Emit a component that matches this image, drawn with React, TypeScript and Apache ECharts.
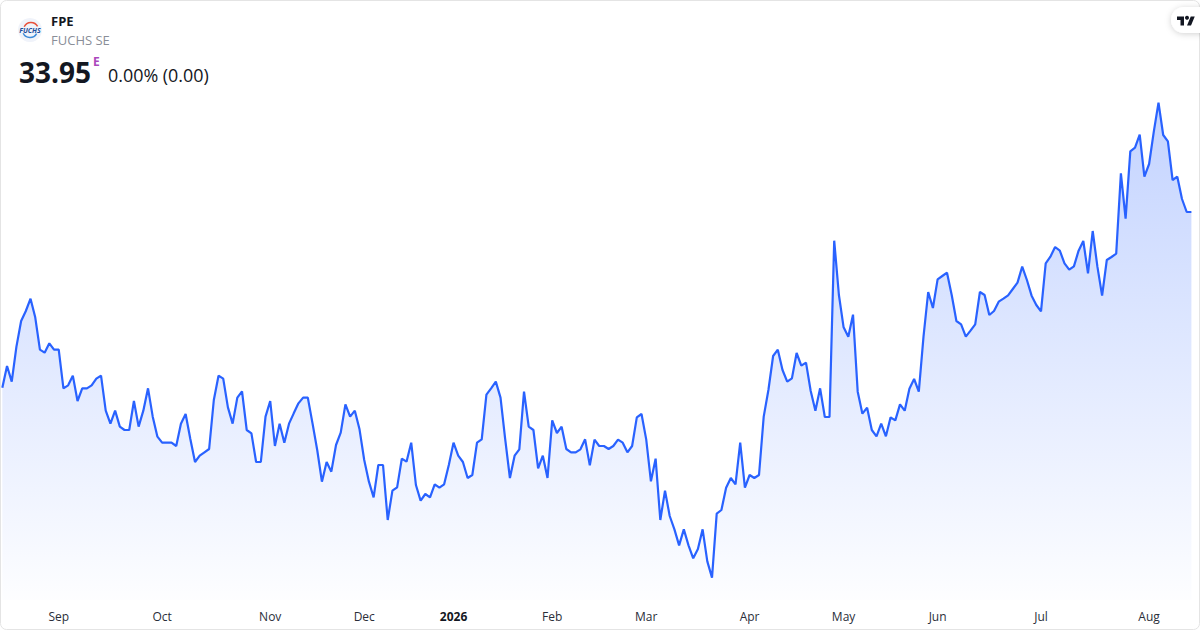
import React, { useEffect, useRef } from "react";
import * as echarts from "echarts";

const prices: number[] = [
  28.68, 29.33, 28.86, 29.91, 30.68, 30.98, 31.35, 30.79, 29.82, 29.73, 30.01, 29.82, 29.82, 28.66, 28.75, 29.04,
  28.28, 28.66, 28.66, 28.75, 28.95, 29.04, 27.99, 27.6, 27.99, 27.51, 27.41, 27.41, 28.28, 27.51, 27.99, 28.66,
  27.81, 27.21, 27.03, 27.03, 27.03, 26.93, 27.6, 27.89, 27.14, 26.45, 26.64, 26.74, 26.84, 28.31, 29.04, 28.95,
  28.09, 27.6, 28.38, 28.57, 27.41, 27.31, 26.45, 26.45, 27.81, 28.28, 26.93, 27.6, 27.03, 27.6, 27.91, 28.21,
  28.38, 28.38, 27.61, 26.81, 25.86, 26.45, 26.16, 26.96, 27.33, 28.18, 27.81, 27.99, 27.43, 26.51, 25.86, 25.39,
  26.36, 26.36, 24.71, 25.59, 25.69, 26.55, 26.46, 27.03, 25.76, 25.29, 25.49, 25.39, 25.78, 25.68, 25.78, 26.36,
  27.03, 26.64, 26.45, 25.97, 26.06, 27.03, 27.13, 28.47, 28.66, 28.86, 28.38, 27.13, 25.97, 26.64, 26.83, 28.56,
  27.51, 27.41, 26.26, 26.64, 25.97, 27.7, 27.32, 27.51, 26.84, 26.74, 26.74, 26.83, 27.13, 26.35, 27.12, 26.93,
  26.93, 26.84, 26.93, 27.12, 27.03, 26.74, 26.93, 27.79, 27.89, 27.13, 25.87, 26.55, 24.71, 25.59, 24.83, 24.43,
  23.95, 24.43, 23.95, 23.56, 23.84, 24.43, 23.47, 22.98, 24.9, 25.01, 25.68, 25.97, 25.78, 27.03, 25.68, 26.06,
  25.97, 26.06, 27.81, 28.61, 29.63, 29.82, 29.21, 28.86, 28.96, 29.72, 29.34, 29.43, 28.58, 27.99, 28.66, 27.8,
  27.8, 33.09, 31.46, 30.49, 30.21, 30.87, 28.56, 27.9, 28.08, 27.41, 27.22, 27.6, 27.22, 27.79, 27.7, 28.18,
  27.99, 28.65, 28.94, 28.56, 30.21, 31.55, 31.07, 31.93, 32.03, 32.13, 31.46, 30.68, 30.58, 30.21, 30.39, 30.58,
  31.55, 31.46, 30.86, 30.98, 31.26, 31.35, 31.45, 31.64, 31.83, 32.31, 31.91, 31.44, 31.16, 30.97, 32.41, 32.61,
  32.9, 32.79, 32.41, 32.22, 32.32, 32.79, 33.08, 32.11, 33.38, 32.31, 31.44, 32.51, 32.6, 32.7, 35.11, 33.75,
  35.77, 35.88, 36.27, 35.01, 35.39, 36.36, 37.23, 36.26, 36.07, 34.91, 35.01, 34.34, 33.95, 33.95,
];

const tickLabels: string[] = ["Sep", "Oct", "Nov", "Dec", "2026", "Feb", "Mar", "Apr", "May", "Jun", "Jul", "Aug"];
const tickIndexes: number[] = [12, 34, 57, 77, 96, 117, 137, 159, 179, 199, 221, 244];
const categories: string[] = prices.map((_, i) => {
  const t = tickIndexes.indexOf(i);
  return t >= 0 ? tickLabels[t] : "";
});

const FONT = "'Open Sans', 'Noto Sans', sans-serif";
const TV_LOGO = "M14 22H7V11H0V4h14v18zM28 22h-8l7.5-18h8L28 22z";

export default function App() {
  const ref = useRef<HTMLDivElement>(null);
  useEffect(() => {
    document.body.style.margin = "0";
    if (!ref.current) return;
    echarts.graphic.registerShape("tvlogo", echarts.graphic.extendPath(TV_LOGO, {}) as any);
    const chart = echarts.init(ref.current, undefined, { renderer: "svg" });
    chart.setOption({
      animation: false,
      backgroundColor: "#ffffff",
      grid: { left: 2.33, right: 8.6, top: 0, bottom: 30 },
      xAxis: {
        type: "category",
        data: categories,
        boundaryGap: false,
        axisLine: { show: false },
        axisTick: { show: false },
        splitLine: { show: false },
        axisLabel: {
          interval: (i: number) => tickIndexes.includes(i),
          margin: 10,
          fontFamily: FONT,
          fontSize: 12,
          color: "#2a2e39",
          hideOverlap: false,
          formatter: (v: string) => (v === "2026" ? "{b|2026}" : v),
          rich: { b: { fontFamily: FONT, fontSize: 12, fontWeight: "bold", color: "#131722" } },
        },
      },
      yAxis: { type: "value", min: 22.31, max: 40.31, show: false, splitLine: { show: false } },
      series: [
        {
          type: "line",
          data: prices,
          symbol: "none",
          smooth: false,
          lineStyle: { color: "#2962ff", width: 2.2 },
          areaStyle: {
            opacity: 1,
            color: new echarts.graphic.LinearGradient(0, 0, 0, 1, [
              { offset: 0, color: "rgba(41,98,255,0.28)" },
              { offset: 1, color: "rgba(41,98,255,0.01)" },
            ]),
          },
        },
      ],
      graphic: [
        { type: "rect", shape: { x: 0.5, y: 0.5, width: 1199, height: 629, r: 6 }, style: { fill: "none", stroke: "#e4e4e4", lineWidth: 1 }, silent: true },
        { type: "circle", shape: { cx: 30, cy: 30, r: 12 }, style: { fill: "#f0f3fa" } },
        { type: "arc", shape: { cx: 31, cy: 30, r: 7.5, startAngle: -2.7, endAngle: -0.5, clockwise: true }, style: { fill: "none", stroke: "#e8503a", lineWidth: 1.5 } },
        { type: "arc", shape: { cx: 30, cy: 30, r: 7.5, startAngle: 0.5, endAngle: 2.7, clockwise: true }, style: { fill: "none", stroke: "#3c8ad8", lineWidth: 1.5 } },
        { type: "text", x: 30, y: 30, style: { text: "FUCHS", fontFamily: FONT, fontSize: 7, fontWeight: "bold", fontStyle: "italic", fill: "#1d4f9c", align: "center", verticalAlign: "middle" } },
        { type: "text", x: 51, y: 21, style: { text: "FPE", fontFamily: FONT, fontSize: 13, fontWeight: 700, fill: "#131722", verticalAlign: "middle" } },
        { type: "text", x: 51, y: 40, style: { text: "FUCHS SE", fontFamily: FONT, fontSize: 13, fill: "#8a8e98", verticalAlign: "middle" } },
        { type: "text", x: 19, y: 71.5, style: { text: "33.95", fontFamily: FONT, fontSize: 28, fontWeight: 700, fill: "#131722", verticalAlign: "middle" } },
        { type: "text", x: 93, y: 61, style: { text: "E", fontFamily: FONT, fontSize: 12, fontWeight: 700, fill: "#ab47bc", verticalAlign: "middle" } },
        { type: "text", x: 108, y: 74.5, style: { text: "0.00% (0.00)", fontFamily: FONT, fontSize: 17.9, fill: "#131722", verticalAlign: "middle" } },
        { type: "rect", shape: { x: 1171, y: 7, width: 60, height: 26, r: 13 }, style: { fill: "#ffffff", shadowBlur: 6, shadowColor: "rgba(0,0,0,0.18)", shadowOffsetY: 1 } },
        { type: "tvlogo", x: 1177, y: 14.5, scaleX: 0.5, scaleY: 0.5, style: { fill: "#131722" } },
        { type: "circle", shape: { cx: 1187, cy: 17.7, r: 2 }, style: { fill: "#131722" } },
      ],
    });
    return () => chart.dispose();
  }, []);
  return <div ref={ref} style={{ width: 1200, height: 630 }} />;
}
